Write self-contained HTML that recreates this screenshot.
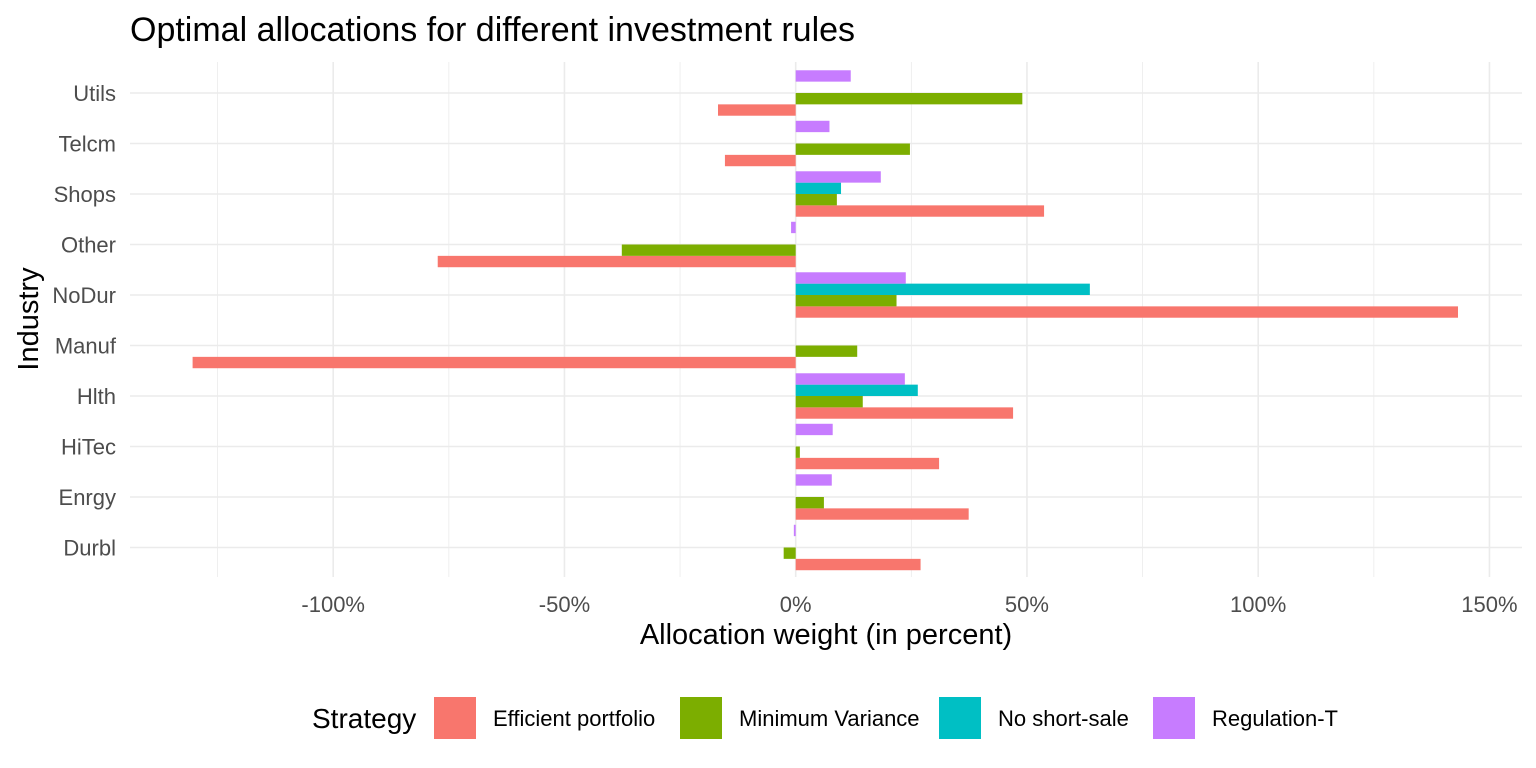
<!DOCTYPE html>
<html><head><meta charset="utf-8"><style>
body{margin:0;background:#fff;}
svg{display:block;font-family:"Liberation Sans",Arial,sans-serif;}
</style></head><body>
<svg id="chart" width="1536" height="768" xmlns="http://www.w3.org/2000/svg">
<text x="130" y="41" font-size="34" fill="#000">Optimal allocations for different investment rules</text>
<g id="grid"></g><g id="bars"></g><g id="axes"></g>
<text x="826" y="644" font-size="29" text-anchor="middle" fill="#000">Allocation weight (in percent)</text>
<text transform="translate(38,319) rotate(-90)" font-size="29" text-anchor="middle" fill="#000">Industry</text>
<g id="legend">
<text x="312" y="728" font-size="28" fill="#000">Strategy</text>
</g>
</svg>
<script>
const categories=["Durbl","Enrgy","HiTec","Hlth","Manuf","NoDur","Other","Shops","Telcm","Utils"];
const seriesNames=["Efficient portfolio","Minimum Variance","No short-sale","Regulation-T"];
const colors=["#F8766D","#7CAE00","#00BFC4","#C77CFF"];
const efficient=[27,37.4,31,47,-130.4,143.2,-77.4,53.7,-15.3,-16.8];
const minVariance=[-2.6,6.1,0.9,14.5,13.3,21.8,-37.6,8.9,24.7,49];
const noShortSale=[0,0,0,26.4,0,63.6,0,9.8,0,0];
const regulationT=[-0.4,7.8,8.0,23.6,0,23.8,-1.0,18.4,7.3,11.9];
const xTicks=[-100,-50,0,50,100,150];
const xMinor=[-125,-75,-25,25,75,125];
const series=[efficient,minVariance,noShortSale,regulationT];
const SVGNS="http://www.w3.org/2000/svg";
const xs=v=>795.7+v*4.625;
const ys=i=>547.5-i*50.5;
const pLeft=130,pRight=1522,pTop=62,pBottom=577;
function mk(tag,attrs,parent){const e=document.createElementNS(SVGNS,tag);for(const k in attrs)e.setAttribute(k,attrs[k]);parent.appendChild(e);return e;}
const grid=document.getElementById('grid'),bars=document.getElementById('bars'),axes=document.getElementById('axes'),legend=document.getElementById('legend');
xMinor.forEach(v=>{const l=mk('line',{x1:xs(v),x2:xs(v),y1:pTop,y2:pBottom,stroke:'#ebebeb','stroke-width':0.8},grid);

});
xTicks.forEach(v=>{const l=mk('line',{x1:xs(v),x2:xs(v),y1:pTop,y2:pBottom,stroke:'#ebebeb','stroke-width':1.6},grid);


const t=mk('text',{x:xs(v),y:612,'font-size':22,'text-anchor':'middle',fill:'#4d4d4d'},axes);t.textContent=v+'%';

});
categories.forEach((c,i)=>{const l=mk('line',{x1:pLeft,x2:pRight,y1:ys(i),y2:ys(i),stroke:'#ebebeb','stroke-width':1.6},grid);


const t=mk('text',{x:116,y:ys(i)+8,'font-size':22,'text-anchor':'end',fill:'#4d4d4d'},axes);t.textContent=c;

});
const bw=11.36;
series.forEach((s,k)=>{s.forEach((v,i)=>{if(v===0)return;
const yt=ys(i)+bw*(1-k);
const r=mk('rect',{x:Math.min(xs(0),xs(v)),y:yt,width:Math.abs(xs(v)-xs(0)),height:bw,fill:colors[k]},bars);

});});
const lx=[434,680,939,1153];
seriesNames.forEach((n,k)=>{const r=mk('rect',{x:lx[k],y:697,width:42,height:42,fill:colors[k]},legend);


const t=mk('text',{x:lx[k]+59,y:726,'font-size':22,fill:'#000'},legend);t.textContent=n;

});
</script>
</body></html>
